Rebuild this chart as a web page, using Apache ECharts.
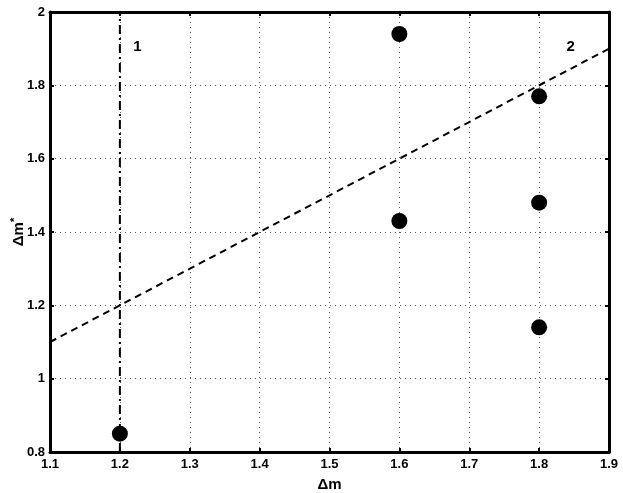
<!DOCTYPE html>
<html>
<head>
<meta charset="utf-8">
<script src="https://cdn.jsdelivr.net/npm/echarts@6/dist/echarts.min.js"></script>
<style>
  html, body { margin: 0; padding: 0; background: #fff; }
  #chart { width: 623px; height: 493px; }
</style>
</head>
<body>
<div id="chart"></div>
<script>
// measured points (Δm, Δm*)
var pointsX = [1.2, 1.6, 1.6, 1.8, 1.8, 1.8];
var pointsY = [0.85, 1.94, 1.43, 1.77, 1.48, 1.14];
// line 1: vertical at Δm = 1.2, line 2: Δm* = Δm
var line1X = [1.2, 1.2];
var line1Y = [0.8, 2.0];
var line2X = [1.1, 1.9];
var line2Y = [1.1, 1.9];
// curve labels
var tagNames = ['1', '2'];
var tagX = [1.225, 1.845];
var tagY = [1.905, 1.905];
var xTicks = ['1.1', '1.2', '1.3', '1.4', '1.5', '1.6', '1.7', '1.8', '1.9'];
var yTicks = ['0.8', '1', '1.2', '1.4', '1.6', '1.8', '2'];

function zip(a, b) {
    var out = [];
    for (var i = 0; i < a.length; i++) { out.push([a[i], b[i]]); }
    return out;
}

var font = 'Liberation Sans, Arial, sans-serif';
var labelStyle = { color: '#000', fontFamily: font, fontWeight: 'bold', fontSize: 13 };

var myChart = echarts.init(document.getElementById('chart'));
var option = {
    animation: false,
    grid: { left: 50, right: 14, top: 12, bottom: 41, outerBoundsMode: 'none', containLabel: false },
    xAxis: [{
        type: 'value', min: 1.1, max: 1.9, interval: 0.1,
        name: 'Δm', nameLocation: 'middle', nameGap: 25, nameMoveOverlap: false,
        nameTextStyle: { color: '#000', fontFamily: font, fontWeight: 'bold', fontSize: 15 },
        axisLine: { lineStyle: { color: '#000', width: 3 } },
        axisTick: { inside: true, length: 4, lineStyle: { color: '#000', width: 2 } },
        axisLabel: Object.assign({ margin: 6, formatter: function (v) { return xTicks[Math.round((v - 1.1) * 10)]; } }, labelStyle),
        splitLine: { show: true, lineStyle: { color: '#555', type: [1, 4], width: 1 } }
    }, {
        type: 'value', position: 'top', min: 1.1, max: 1.9, interval: 0.1,
        axisLine: { lineStyle: { color: '#000', width: 3 } },
        axisTick: { inside: true, length: 4, lineStyle: { color: '#000', width: 2 } },
        axisLabel: { show: false }, splitLine: { show: false }
    }],
    yAxis: [{
        type: 'value', min: 0.8, max: 2, interval: 0.2,
        name: '{a|Δm}{b|*}', nameLocation: 'middle', nameGap: 22, nameRotate: 90, nameMoveOverlap: false,
        nameTextStyle: {
            rich: {
                a: { color: '#000', fontFamily: font, fontWeight: 'bold', fontSize: 15 },
                b: { color: '#000', fontFamily: font, fontWeight: 'bold', fontSize: 11, verticalAlign: 'top', padding: [0, 0, 8, 0] }
            }
        },
        axisLine: { lineStyle: { color: '#000', width: 3 } },
        axisTick: { inside: true, length: 4, lineStyle: { color: '#000', width: 2 } },
        axisLabel: Object.assign({ margin: 5, formatter: function (v) { return yTicks[Math.round((v - 0.8) * 5)]; } }, labelStyle),
        splitLine: { show: true, lineStyle: { color: '#555', type: [1, 4], width: 1 } }
    }, {
        type: 'value', position: 'right', min: 0.8, max: 2, interval: 0.2,
        axisLine: { lineStyle: { color: '#000', width: 3 } },
        axisTick: { inside: true, length: 4, lineStyle: { color: '#000', width: 2 } },
        axisLabel: { show: false }, splitLine: { show: false }
    }],
    series: [{
        name: 'line1', type: 'line', data: zip(line1X, line1Y), symbol: 'none',
        lineStyle: { color: '#000', width: 2, type: [9, 4, 2, 4] }
    }, {
        name: 'line2', type: 'line', data: zip(line2X, line2Y), symbol: 'none',
        lineStyle: { color: '#000', width: 2, type: [7, 5] }
    }, {
        name: 'points', type: 'scatter', data: zip(pointsX, pointsY),
        symbol: 'circle', symbolSize: 16,
        itemStyle: { color: '#000', opacity: 1 }
    }, {
        name: 'tags', type: 'scatter', symbolSize: 0, silent: true,
        itemStyle: { color: '#000', opacity: 1 },
        data: tagNames.map(function (n, i) { return { value: [tagX[i], tagY[i]], name: n }; }),
        label: {
            show: true, position: 'inside', formatter: '{b}', opacity: 1,
            color: '#000', fontFamily: font, fontWeight: 'bold', fontSize: 15
        }
    }]
};
myChart.setOption(option);
</script>
</body>
</html>
